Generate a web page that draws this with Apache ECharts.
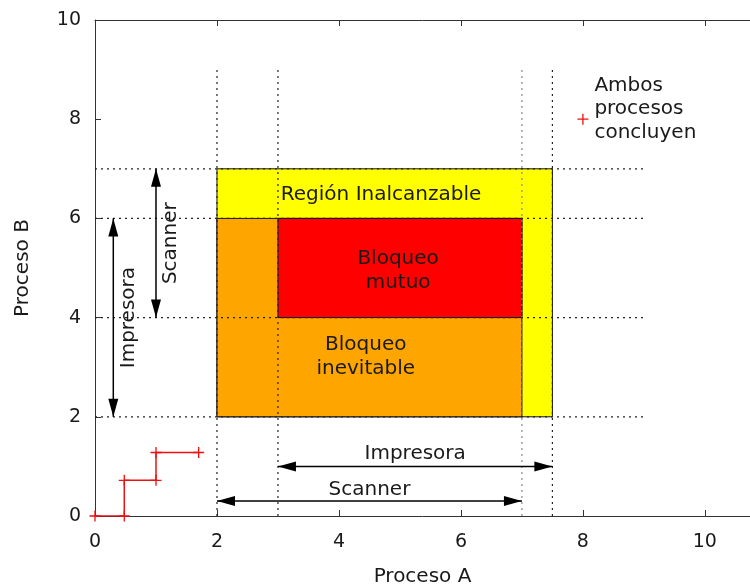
<!DOCTYPE html>
<html>
<head>
<meta charset="utf-8">
<script src="https://cdn.jsdelivr.net/npm/echarts@6/dist/echarts.min.js"></script>
<style>html,body{margin:0;padding:0;background:#fff;}#c{width:750px;height:588px;}</style>
</head>
<body>
<div id="c"></div>
<script>
// ---- data ----
const regionNames = ['Región Inalcanzable', 'Bloqueo inevitable', 'Bloqueo mutuo'];
const regionBoxes = [[2, 2, 7.5, 7], [2, 2, 7, 6], [3, 4, 7, 6]];
const regionLabelPos = [[4.69, 6.47], [4.44, 3.21], [4.97, 4.94]];
const regionLabelText = ['Región Inalcanzable', 'Bloqueo\ninevitable', 'Bloqueo\nmutuo'];
const guideX = [2, 3, 7, 7.5];
const guideY = [2, 4, 6, 7];
const guideEnd = 9;
const arrowNames = ['Impresora', 'Scanner', 'Scanner', 'Impresora'];
const arrowSegs = [[3, 1, 7.5, 1], [2, 0.3, 7, 0.3], [1, 4, 1, 7], [0.3, 2, 0.3, 6]];
const arrowLabelPos = [[5.25, 1.25], [4.5, 0.52], [1.25, 5.5], [0.55, 4.0]];
const arrowLabelRot = [0, 0, 90, 90];
const pathX = [0, 0.48, 0.48, 1, 1, 1.7];
const pathY = [0, 0, 0.72, 0.72, 1.28, 1.28];
const endPoint = [8, 8];
const endText = 'Ambos\nprocesos\nconcluyen';
const xTicks = [0, 2, 4, 6, 8, 10];
const yTicks = [0, 2, 4, 6, 8, 10];

const FONT = 'DejaVu Sans';
const TXT = '#1a1a1a';
const regionColors = ['#ffff00', '#ffa500', '#ff0000'];
const plus = 'path://M0,4.4 H10 V5.6 H0 Z M4.4,0 H5.6 V10 H4.4 Z';

const chart = echarts.init(document.getElementById('c'));
const axisCommon = {
  type: 'value', min: 0, splitLine: { show: false },
  axisLine: { show: true, lineStyle: { color: '#333', width: 1 } },
  axisTick: { show: true, inside: true, length: 6, lineStyle: { color: '#333' } }
};
const option = {
  animation: false,
  grid: { left: 95, right: 0, top: 20, bottom: 72, containLabel: false, outerBoundsMode: 'none' },
  xAxis: [
    Object.assign({}, axisCommon, {
      max: 10.74, interval: 2, position: 'bottom',
      name: 'Proceso A', nameLocation: 'middle', nameGap: 51,
      nameTextStyle: { fontFamily: FONT, fontSize: 20, color: TXT },
      axisLabel: { fontFamily: FONT, fontSize: 19, color: TXT, margin: 17,
        formatter: v => xTicks.indexOf(v) >= 0 ? String(v) : '' }
    }),
    Object.assign({}, axisCommon, {
      max: 10.74, interval: 2, position: 'top', axisLabel: { show: false }
    })
  ],
  yAxis: [
    Object.assign({}, axisCommon, {
      max: 10, interval: 2, position: 'left',
      name: 'Proceso B', nameLocation: 'middle', nameGap: 62,
      nameTextStyle: { fontFamily: FONT, fontSize: 20, color: TXT },
      axisLabel: { fontFamily: FONT, fontSize: 19, color: TXT, margin: 14,
        formatter: v => yTicks.indexOf(v) >= 0 ? String(v) : '' }
    })
  ],
  series: [
    {
      type: 'custom', z: 1, silent: true,
      data: regionBoxes.map((b, i) => ({ name: regionNames[i], value: b })),
      encode: { x: [0, 2], y: [1, 3] },
      renderItem: function (params, api) {
        const p0 = api.coord([api.value(0), api.value(1)]);
        const p1 = api.coord([api.value(2), api.value(3)]);
        return {
          type: 'rect',
          shape: { x: p0[0], y: p1[1], width: p1[0] - p0[0], height: p0[1] - p1[1] },
          style: { fill: regionColors[params.dataIndex], stroke: '#111', lineWidth: 1 }
        };
      }
    },
    {
      type: 'custom', z: 2, silent: true,
      data: guideX.map(x => [x, 0, x, guideEnd, 0]).concat(guideY.map(y => [0, y, guideEnd, y, 1])),
      encode: { x: [0, 2], y: [1, 3] },
      renderItem: function (params, api) {
        const p0 = api.coord([api.value(0), api.value(1)]);
        const p1 = api.coord([api.value(2), api.value(3)]);
        const grey = api.value(0) === 7 && api.value(4) === 0;
        return {
          type: 'line',
          shape: { x1: p0[0], y1: p0[1], x2: p1[0], y2: p1[1] },
          style: { stroke: grey ? '#888' : '#222', lineWidth: 1.2, lineDash: [2, 4] }
        };
      }
    },
    {
      type: 'custom', z: 3, silent: true,
      data: arrowSegs,
      encode: { x: [0, 2], y: [1, 3] },
      renderItem: function (params, api) {
        const a = api.coord([api.value(0), api.value(1)]);
        const b = api.coord([api.value(2), api.value(3)]);
        const dx = b[0] - a[0], dy = b[1] - a[1];
        const len = Math.sqrt(dx * dx + dy * dy);
        const ux = dx / len, uy = dy / len, nx = -uy, ny = ux;
        const L = 18, W = 5;
        const head = (tip, dir) => ({
          type: 'polygon',
          shape: { points: [
            [tip[0], tip[1]],
            [tip[0] - dir * ux * L + nx * W, tip[1] - dir * uy * L + ny * W],
            [tip[0] - dir * ux * L - nx * W, tip[1] - dir * uy * L - ny * W]
          ] },
          style: { fill: '#000' }
        });
        return {
          type: 'group',
          children: [
            { type: 'line', shape: { x1: a[0], y1: a[1], x2: b[0], y2: b[1] },
              style: { stroke: '#000', lineWidth: 1.5 } },
            head(b, 1), head(a, -1)
          ]
        };
      }
    },
    {
      type: 'line', z: 4, silent: true,
      data: pathX.map((x, i) => [x, pathY[i]]),
      symbol: plus, symbolSize: 11, showAllSymbol: true,
      lineStyle: { color: '#ee1111', width: 1.5 },
      itemStyle: { color: '#ee1111' }
    },
    {
      type: 'scatter', z: 4, silent: true,
      data: [endPoint],
      symbol: plus, symbolSize: 11,
      itemStyle: { color: '#ee1111', opacity: 1 },
      label: { show: true, position: 'right', distance: 6, formatter: endText,
        fontFamily: FONT, fontSize: 20, color: TXT, lineHeight: 23.5, align: 'left',
        offset: [0, -10] }
    },
    {
      type: 'scatter', z: 5, silent: true, symbolSize: 0,
      itemStyle: { opacity: 1 },
      data: regionLabelPos.map((p, i) => ({ value: p, label: { formatter: regionLabelText[i] } })),
      label: { show: true, position: 'inside', fontFamily: FONT, fontSize: 20,
        color: TXT, lineHeight: 23.5, align: 'center', verticalAlign: 'middle' }
    },
    {
      type: 'scatter', z: 5, silent: true, symbolSize: 0,
      itemStyle: { opacity: 1 },
      data: arrowLabelPos.map((p, i) => ({ value: p,
        label: { formatter: arrowNames[i], rotate: arrowLabelRot[i] } })),
      label: { show: true, position: 'inside', fontFamily: FONT, fontSize: 20,
        color: TXT, align: 'center', verticalAlign: 'middle' }
    }
  ]
};
chart.setOption(option);
</script>
</body>
</html>
